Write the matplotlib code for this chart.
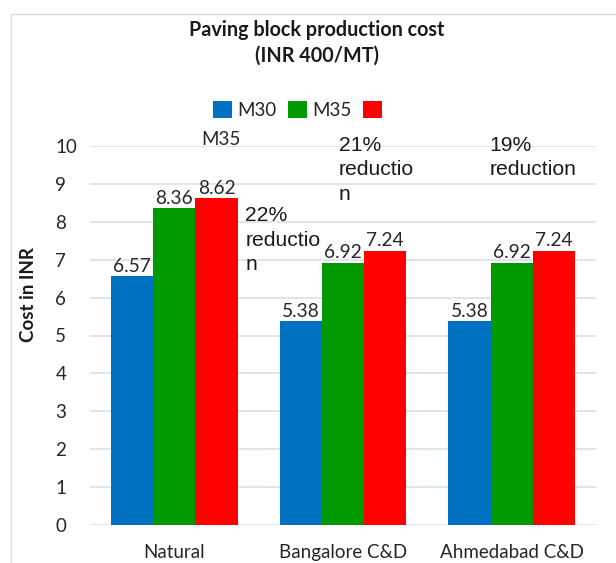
"""Paving block production cost by aggregate source (grouped bars)."""

import matplotlib

matplotlib.use("Agg")
import matplotlib.pyplot as plt
import numpy as np
from matplotlib.patches import Rectangle

CATEGORIES = ["Natural", "Bangalore C&D", "Ahmedabad C&D"]
SERIES = ["M30", "M35", ""]
M30 = [6.57, 5.38, 5.38]
M35 = [8.36, 6.92, 6.92]
THIRD = [8.62, 7.24, 7.24]
COLORS = ["#0070C0", "#009900", "#FF0000"]

NOTES = ["22%\nreductio\nn", "21%\nreductio\nn", "19%\nreduction"]
NOTE_POS = [(0.42, 8.42), (0.975, 10.27), (1.87, 10.27)]

plt.rcParams.update({
    "font.family": ["Lato", "DejaVu Sans"],
    "font.size": 13.5,
    "text.color": "#262626",
    "xtick.color": "#262626",
    "ytick.color": "#262626",
})

fig = plt.figure(figsize=(6.16, 5.63), dpi=100)
ax = fig.add_axes([90 / 616, 38 / 563, 506 / 616, 379 / 563])

# outer chart-area border, cut by the image edge on the right and bottom
fig.patches.append(Rectangle((10.5 / 616, -0.1), 1.2, 1.1 - 14.5 / 563,
                             transform=fig.transFigure, fill=False,
                             edgecolor="#d9dce4", linewidth=1.0))

x = np.arange(len(CATEGORIES))
width = 0.25
handles = []
for i, (vals, color) in enumerate(zip([M30, M35, THIRD], COLORS)):
    bars = ax.bar(x + (i - 1) * width, vals, width, color=color, linewidth=0,
                  label=SERIES[i], zorder=2)
    ax.bar_label(bars, labels=[f"{v:.2f}" for v in vals], padding=1,
                 fontsize=13.8, color="#262626")
    handles.append(bars)

ax.set_xlim(-0.5, 2.5)
ax.set_ylim(0, 10)
ax.set_yticks(range(0, 11))
ax.set_xticks(x, CATEGORIES)
ax.grid(axis="y", color="#d9dde6", linewidth=1.1, zorder=0)
ax.set_axisbelow(True)
for side in ax.spines.values():
    side.set_visible(False)
ax.tick_params(axis="both", length=0)
ax.tick_params(axis="y", pad=25)
ax.tick_params(axis="x", pad=14)
for lab in ax.get_yticklabels():
    lab.set_horizontalalignment("left")

for text, (tx, ty) in zip(NOTES, NOTE_POS):
    ax.text(tx, ty, text, family=["Liberation Sans", "DejaVu Sans"],
            fontsize=15.2, ha="left", va="top", linespacing=1.38,
            color="#1a1a1a", clip_on=False)
ax.text(0.277, 10.18, "M35", ha="center", va="center", fontsize=13.5,
        clip_on=False)

fig.legend(handles=handles, labels=SERIES, loc="center left",
           bbox_to_anchor=(213 / 616, 1 - 110 / 563), ncol=3, frameon=False,
           handlelength=1.0, handleheight=1.0, handletextpad=0.27,
           columnspacing=0.64, borderpad=0, borderaxespad=0, fontsize=13.5)

fig.text(317 / 616, 1 - 20 / 563, "Paving block production cost\n(INR 400/MT)",
         ha="center", va="top", fontsize=14.2, fontweight="bold",
         linespacing=1.35, color="#1a1a1a")
fig.text(29 / 616, 1 - 295 / 563, "Cost in INR", rotation=90, ha="center",
         va="center", fontsize=13.5, fontweight="bold", color="#1a1a1a")

fig.savefig("out.png", dpi=100)
